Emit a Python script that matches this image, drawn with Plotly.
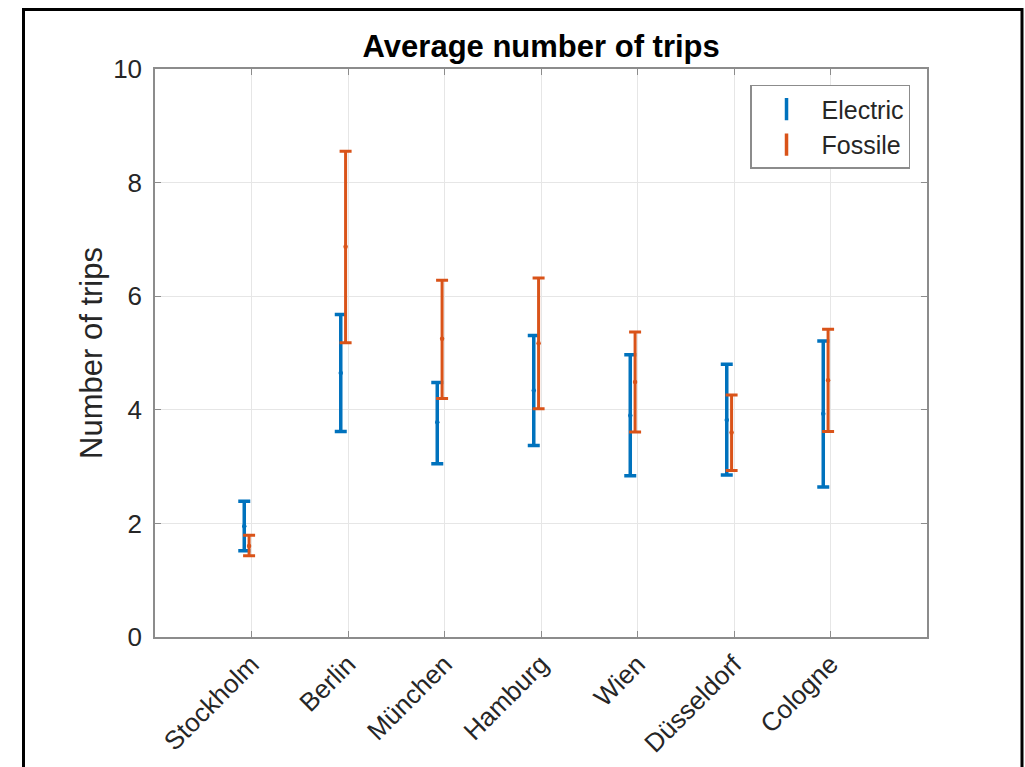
import plotly.graph_objects as go

cities = ["Stockholm", "Berlin", "München", "Hamburg", "Wien", "Düsseldorf", "Cologne"]

electric_mean = [1.95, 4.65, 3.78, 4.34, 3.90, 3.82, 3.93]
electric_low = [1.52, 3.62, 3.05, 3.37, 2.84, 2.85, 2.64]
electric_high = [2.39, 5.68, 4.48, 5.31, 4.97, 4.80, 5.21]

fossile_mean = [1.60, 6.87, 5.25, 5.17, 4.49, 3.60, 4.52]
fossile_low = [1.43, 5.18, 4.20, 4.02, 3.61, 2.93, 3.62]
fossile_high = [1.79, 8.55, 6.28, 6.32, 5.37, 4.26, 5.42]

y_ticks = [0, 2, 4, 6, 8, 10]

BLUE = "#0072BD"
ORANGE = "#D95319"
FONT = "Liberation Sans, Arial, sans-serif"

fig = go.Figure()


def add_series(name, mean, low, high, color, lw):
    fig.add_trace(go.Scatter(
        x=cities, y=mean, name=name, mode="markers",
        marker=dict(color=color, size=4.5),
        error_y=dict(type="data", symmetric=False,
                     array=[h - m for h, m in zip(high, mean)],
                     arrayminus=[m - l for m, l in zip(mean, low)],
                     color=color, thickness=lw, width=6),
        showlegend=False,
    ))


add_series("Electric", electric_mean, electric_low, electric_high, BLUE, 3.5)
add_series("Fossile", fossile_mean, fossile_low, fossile_high, ORANGE, 3)

# legend entries (error-bar style glyph)
for name, color in [("Electric", BLUE), ("Fossile", ORANGE)]:
    fig.add_trace(go.Scatter(
        x=[None], y=[None], name=name, mode="markers",
        marker=dict(symbol="line-ns", size=16, line=dict(color=color, width=3.5)),
        showlegend=True,
    ))

fig.update_layout(
    width=1025, height=767,
    margin=dict(l=155, r=98, t=69, b=130),
    paper_bgcolor="white", plot_bgcolor="white",
    scattermode="group", scattergap=0.8,
    font=dict(family=FONT, color="#262626"),
    title=dict(text="<b>Average number of trips</b>", x=0.528, xanchor="center",
               y=1 - 46 / 767, yanchor="middle",
               font=dict(size=31, color="black", family=FONT)),
    legend=dict(x=0.978, y=0.972, xanchor="right", yanchor="top",
                bgcolor="white", bordercolor="#8c8c8c", borderwidth=1.5,
                itemwidth=60, tracegroupgap=0,
                font=dict(size=25, color="#262626")),
    xaxis=dict(
        type="category", categoryorder="array", categoryarray=cities,
        range=[-1, 7], automargin=False,
        showgrid=True, gridcolor="#e6e6e6", gridwidth=1,
        showline=True, linecolor="#8c8c8c", linewidth=1.5, mirror="ticks",
        ticks="inside", ticklen=6, tickcolor="#8c8c8c",
        tickangle=-45, tickfont=dict(size=26, color="#262626"),
        zeroline=False,
    ),
    yaxis=dict(
        range=[0, 10], tickvals=y_ticks, ticktext=[str(v) for v in y_ticks],
        automargin=False,
        showgrid=True, gridcolor="#e6e6e6", gridwidth=1,
        showline=True, linecolor="#8c8c8c", linewidth=1.5, mirror="ticks",
        ticks="inside", ticklen=6, tickcolor="#8c8c8c",
        ticklabelstandoff=6,
        tickfont=dict(size=26, color="#262626"),
        title=dict(text="Number of trips", font=dict(size=31, color="#262626"), standoff=1),
        zeroline=False,
    ),
    shapes=[dict(type="rect", xref="paper", yref="paper",
                 x0=(23.5 - 155) / 772, x1=(1022 - 155) / 772,
                 y0=(637 - 790) / 568, y1=(637 - 9.5) / 568,
                 line=dict(color="black", width=3), fillcolor="rgba(0,0,0,0)",
                 layer="above")],
)

fig.write_html("out.html")
